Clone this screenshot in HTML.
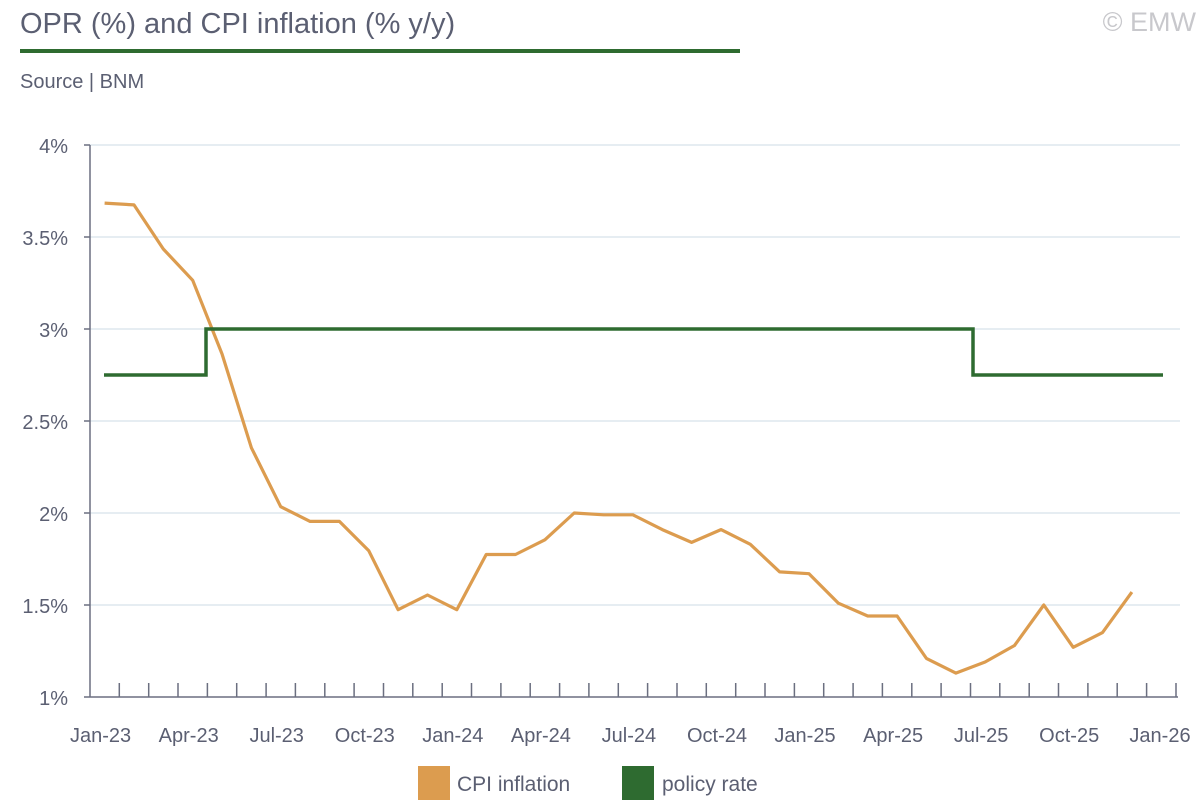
<!DOCTYPE html>
<html><head><meta charset="utf-8"><style>
body{margin:0;background:#fff;}
svg{display:block;font-family:"Liberation Sans",sans-serif;}
</style></head><body>
<svg width="1200" height="800" viewBox="0 0 1200 800" xmlns="http://www.w3.org/2000/svg">
<text x="20" y="33" font-size="29" fill="#5b5f72">OPR (%) and CPI inflation (% y/y)</text>
<text x="1196" y="31" font-size="27" fill="#c8c8cc" text-anchor="end">© EMW</text>
<rect x="20" y="49" width="720" height="4" fill="#2e6b30"/>
<text x="20" y="88" font-size="20" fill="#5b5f72">Source | BNM</text>
<g stroke="#d8e2ea" stroke-width="1.3">
<line x1="90" x2="1180" y1="145" y2="145"/><line x1="90" x2="1180" y1="237" y2="237"/>
<line x1="90" x2="1180" y1="329" y2="329"/><line x1="90" x2="1180" y1="421" y2="421"/>
<line x1="90" x2="1180" y1="513" y2="513"/><line x1="90" x2="1180" y1="605" y2="605"/>
</g>
<g stroke="#6b6f80" stroke-width="1.5">
<line x1="90" x2="90" y1="145" y2="697"/><line x1="90" x2="1178" y1="697" y2="697"/>
<line x1="84" x2="90" y1="145" y2="145"/><line x1="84" x2="90" y1="237" y2="237"/><line x1="84" x2="90" y1="329" y2="329"/><line x1="84" x2="90" y1="421" y2="421"/><line x1="84" x2="90" y1="513" y2="513"/><line x1="84" x2="90" y1="605" y2="605"/><line x1="84" x2="90" y1="697" y2="697"/>
<path d="M119.3 683V697M148.7 683V697M178 683V697M207.4 683V697M236.7 683V697M266.1 683V697M295.4 683V697M324.8 683V697M354.1 683V697M383.5 683V697M412.8 683V697M442.2 683V697M471.5 683V697M500.9 683V697M530.2 683V697M559.6 683V697M588.9 683V697M618.3 683V697M647.6 683V697M677 683V697M706.3 683V697M735.7 683V697M765 683V697M794.4 683V697M823.7 683V697M853.1 683V697M882.4 683V697M911.8 683V697M941.1 683V697M970.5 683V697M999.8 683V697M1029.2 683V697M1058.5 683V697M1087.9 683V697M1117.2 683V697M1146.6 683V697M1176 683V697"/>
</g>
<g font-size="20" fill="#5b5f72" text-anchor="end">
<text x="68" y="153">4%</text><text x="68" y="245">3.5%</text><text x="68" y="337">3%</text><text x="68" y="429">2.5%</text><text x="68" y="521">2%</text><text x="68" y="613">1.5%</text><text x="68" y="705">1%</text>
</g>
<g font-size="20" fill="#5b5f72" text-anchor="middle">
<text x="100.6" y="742">Jan-23</text><text x="188.7" y="742">Apr-23</text><text x="276.7" y="742">Jul-23</text><text x="364.8" y="742">Oct-23</text><text x="452.8" y="742">Jan-24</text><text x="540.9" y="742">Apr-24</text><text x="628.9" y="742">Jul-24</text><text x="717" y="742">Oct-24</text><text x="805" y="742">Jan-25</text><text x="893.1" y="742">Apr-25</text><text x="981.1" y="742">Jul-25</text><text x="1069.2" y="742">Oct-25</text><text x="1160" y="742">Jan-26</text>
</g>
<polyline fill="none" stroke="#dc9c4f" stroke-width="3.2" stroke-linejoin="round" points="104.6,203.1 134,204.9 163.3,249 192.7,280.3 222,353.9 251.4,447.8 280.7,506.7 310.1,521.4 339.4,521.4 368.8,550.8 398.1,609.7 427.5,595 456.8,609.7 486.2,554.5 515.5,554.5 544.9,539.8 574.2,513 603.6,514.8 632.9,514.8 662.3,529.6 691.6,542.4 721,529.6 750.3,544.3 779.7,571.9 809,573.7 838.4,603.2 867.7,616 897.1,616 926.4,658.4 955.8,673.1 985.1,662.0 1014.5,645.5 1043.8,605 1073.2,647.3 1102.5,632.6 1131.9,592.1"/>
<polyline fill="none" stroke="#2e6b30" stroke-width="3.5" points="104,375 206,375 206,329 973,329 973,375 1163,375"/>
<rect x="418" y="766" width="32" height="34" fill="#dc9c4f"/>
<text x="457" y="791" font-size="21" fill="#5b5f72">CPI inflation</text>
<rect x="622" y="766" width="32" height="34" fill="#2e6b30"/>
<text x="662" y="791" font-size="21" fill="#5b5f72">policy rate</text>
</svg>
</body></html>
